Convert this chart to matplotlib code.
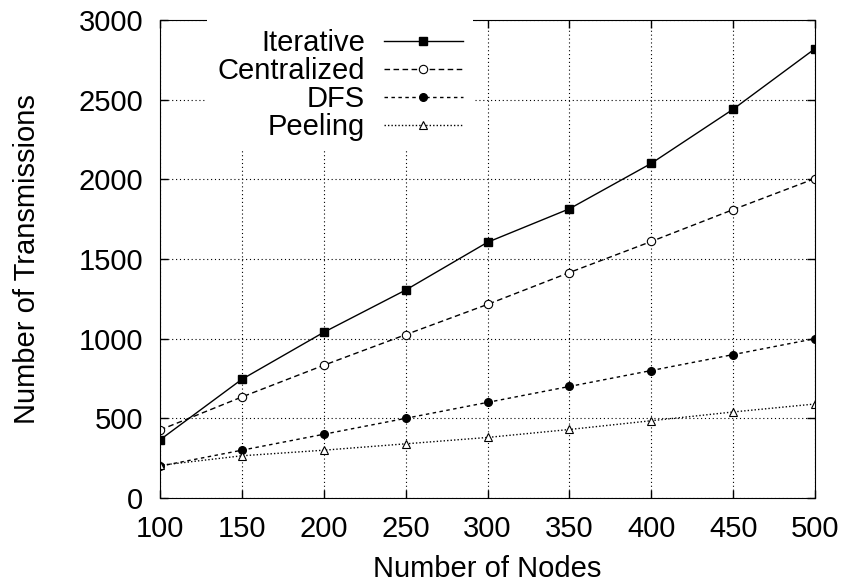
import matplotlib
matplotlib.use('Agg')
import matplotlib.pyplot as plt

plt.rcParams['font.family'] = ['Liberation Sans', 'DejaVu Sans']

nodes = [100, 150, 200, 250, 300, 350, 400, 450, 500]
iterative = [365, 745, 1040, 1305, 1605, 1815, 2100, 2440, 2820]
centralized = [427, 634, 833, 1025, 1215, 1415, 1610, 1810, 2005]
dfs = [200, 300, 400, 500, 600, 700, 800, 900, 1000]
peeling = [205, 265, 300, 340, 380, 430, 485, 540, 590]

fig = plt.figure(figsize=(8.44, 5.85), dpi=100)
ax = fig.add_axes([160 / 844, 1 - 498 / 585, 655 / 844, 478 / 585])

ax.plot(nodes, iterative, color='black', lw=1.0, ls='-', marker='s', ms=5.8,
        mfc='black', label='Iterative')
ax.plot(nodes, centralized, color='black', lw=1.0, ls=(0, (4, 2.5)), marker='o', ms=6,
        mfc='white', mew=0.8, label='Centralized')
ax.plot(nodes, dfs, color='black', lw=1.0, ls=(0, (2.5, 2.5)), marker='o', ms=5.5,
        mfc='black', label='DFS')
ax.plot(nodes, peeling, color='black', lw=1.0, ls=(0, (1, 1.5)), marker='^', ms=5.5,
        mfc='white', mew=0.8, label='Peeling')

ax.set_xlim(100, 500)
ax.set_ylim(0, 3000)
ax.set_xticks(range(100, 501, 50))
ax.set_yticks(range(0, 3001, 500))
ax.tick_params(direction='in', length=6, width=1, top=True, right=True,
               labelsize=21)
ax.tick_params(axis='x', pad=12)
ax.tick_params(axis='y', pad=12)
ax.grid(True, color='black', ls=(0, (1, 2.5)), lw=0.8)

ax.set_xlabel('Number of Nodes', fontsize=21, labelpad=9)
ax.set_ylabel('Number of Transmissions', fontsize=21, labelpad=27)

leg = ax.legend(loc='upper right', bbox_to_anchor=(473 / 844, 1 - 19 / 585),
                bbox_transform=fig.transFigure,
                markerfirst=False, numpoints=1, fontsize=21,
                frameon=True, handlelength=2.7, handletextpad=0.65,
                labelspacing=0.0, borderaxespad=0.0, borderpad=0.35,
                fancybox=False)
leg.get_frame().set_edgecolor('none')
leg.get_frame().set_facecolor('white')
leg.get_frame().set_alpha(1.0)
leg.set_zorder(5)

fig.savefig('out.png', dpi=100)
